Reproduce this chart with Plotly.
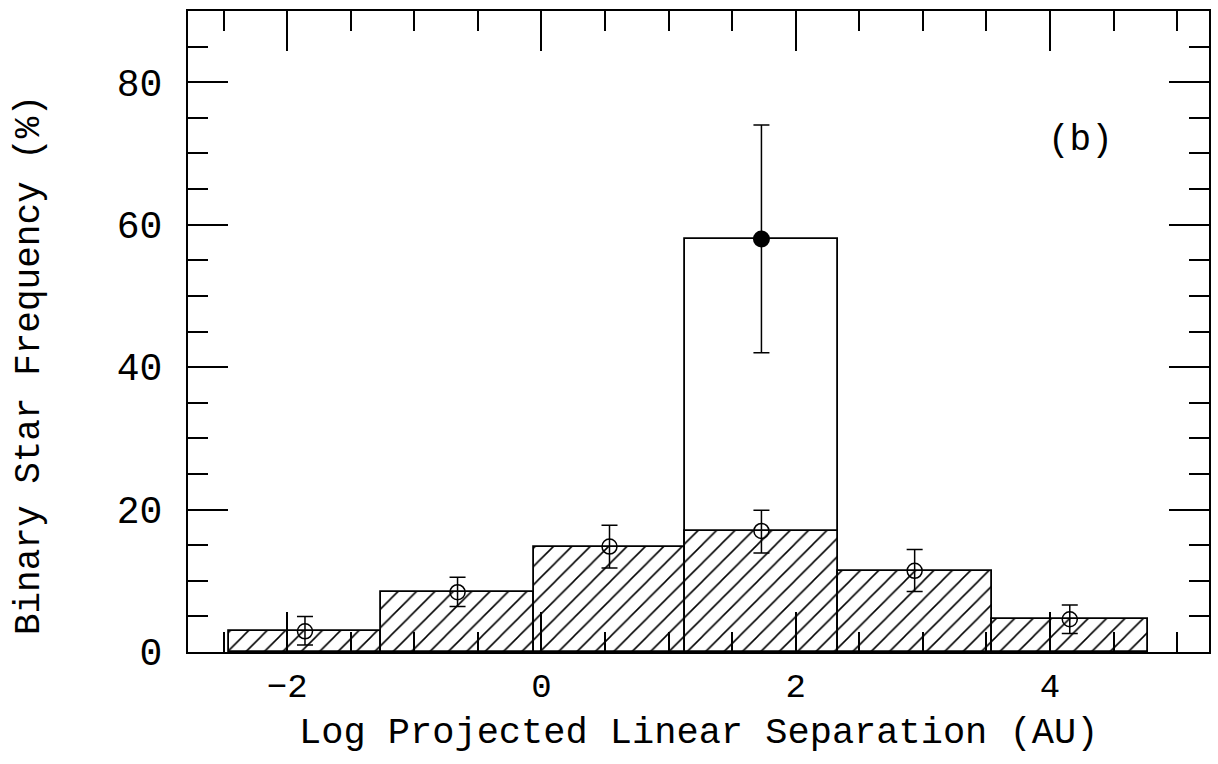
import plotly.graph_objects as go

# ---- data ----
bin_left = [-2.46, -1.26, -0.06, 1.13, 2.33, 3.54]
bin_right = [-1.26, -0.06, 1.13, 2.33, 3.54, 4.77]
freq = [2.9, 8.4, 14.8, 17.0, 11.4, 4.6]
err_plus = [2.1, 2.1, 3.0, 2.9, 3.0, 2.0]
err_minus = [1.9, 2.0, 3.0, 3.1, 2.9, 2.0]

peak_left = [1.13]
peak_right = [2.33]
peak_freq = [58.0]
peak_err = [16.0]

x_tickvals = [-2, 0, 2, 4]
y_tickvals = [0, 20, 40, 60, 80]

x_title = "Log Projected Linear Separation (AU)"
y_title = "Binary Star Frequency (%)"
panel_label = "(b)"

centers = [(a + b) / 2 for a, b in zip(bin_left, bin_right)]
widths = [b - a for a, b in zip(bin_left, bin_right)]
pk_center = [(a + b) / 2 for a, b in zip(peak_left, peak_right)]
pk_width = [b - a for a, b in zip(peak_left, peak_right)]

FONT = "Liberation Mono"

fig = go.Figure()

# tall open bar
fig.add_trace(go.Bar(
    x=pk_center, y=peak_freq, width=pk_width,
    marker=dict(color="white", line=dict(color="black", width=1.8)),
    showlegend=False, hoverinfo="skip"))

# hatched histogram
fig.add_trace(go.Bar(
    x=centers, y=freq, width=widths,
    marker=dict(color="white", line=dict(color="black", width=1.8),
                pattern=dict(shape="/", fgcolor="black", bgcolor="white",
                             size=13, solidity=0.12, fillmode="replace")),
    showlegend=False, hoverinfo="skip"))

# open circles with error bars
fig.add_trace(go.Scatter(
    x=centers, y=freq, mode="markers",
    marker=dict(symbol="circle-open", size=15, color="black",
                line=dict(width=1.5, color="black")),
    error_y=dict(type="data", array=err_plus, arrayminus=err_minus,
                 color="black", thickness=1.5, width=8),
    showlegend=False, hoverinfo="skip"))

# filled circle with error bar
fig.add_trace(go.Scatter(
    x=pk_center, y=peak_freq, mode="markers",
    marker=dict(symbol="circle", size=17, color="black"),
    error_y=dict(type="data", array=peak_err, color="black",
                 thickness=1.5, width=8),
    showlegend=False, hoverinfo="skip"))

fig.add_annotation(x=4.24, y=71.8, xref="x", yref="y", text=panel_label,
                   showarrow=False, font=dict(family=FONT, size=36, color="black"))

# axis titles
fig.add_annotation(x=0.5, y=-0.126, xref="paper", yref="paper", text=x_title,
                   showarrow=False, xanchor="center", yanchor="middle",
                   font=dict(family=FONT, size=37, color="black"))
fig.add_annotation(x=-0.1545, y=0.448, xref="paper", yref="paper", text=y_title,
                   showarrow=False, xanchor="center", yanchor="middle",
                   textangle=-90,
                   font=dict(family=FONT, size=36, color="black"))

axis_common = dict(
    showline=True, linecolor="black", linewidth=2, mirror="allticks",
    ticks="inside", ticklen=40, tickwidth=1.5, tickcolor="black",
    showgrid=False, zeroline=False,
)

fig.update_layout(
    width=1218, height=764,
    margin=dict(l=188, r=7, t=11, b=112),
    paper_bgcolor="white", plot_bgcolor="white",
    barmode="overlay", bargap=0,
    xaxis=dict(range=[-2.78, 5.25], tickvals=x_tickvals,
               minor=dict(dtick=0.5, tick0=0, ticks="inside", ticklen=20,
                          tickwidth=1.5, tickcolor="black"),
               ticklabelstandoff=2,
               tickfont=dict(family=FONT, size=34, color="black"),
               **axis_common),
    yaxis=dict(range=[0, 90], tickvals=y_tickvals,
               minor=dict(dtick=5, tick0=0, ticks="inside", ticklen=20,
                          tickwidth=1.5, tickcolor="black"),
               ticklabelstandoff=16,
               tickfont=dict(family=FONT, size=38, color="black"),
               **axis_common),
)

fig.write_html("out.html")
